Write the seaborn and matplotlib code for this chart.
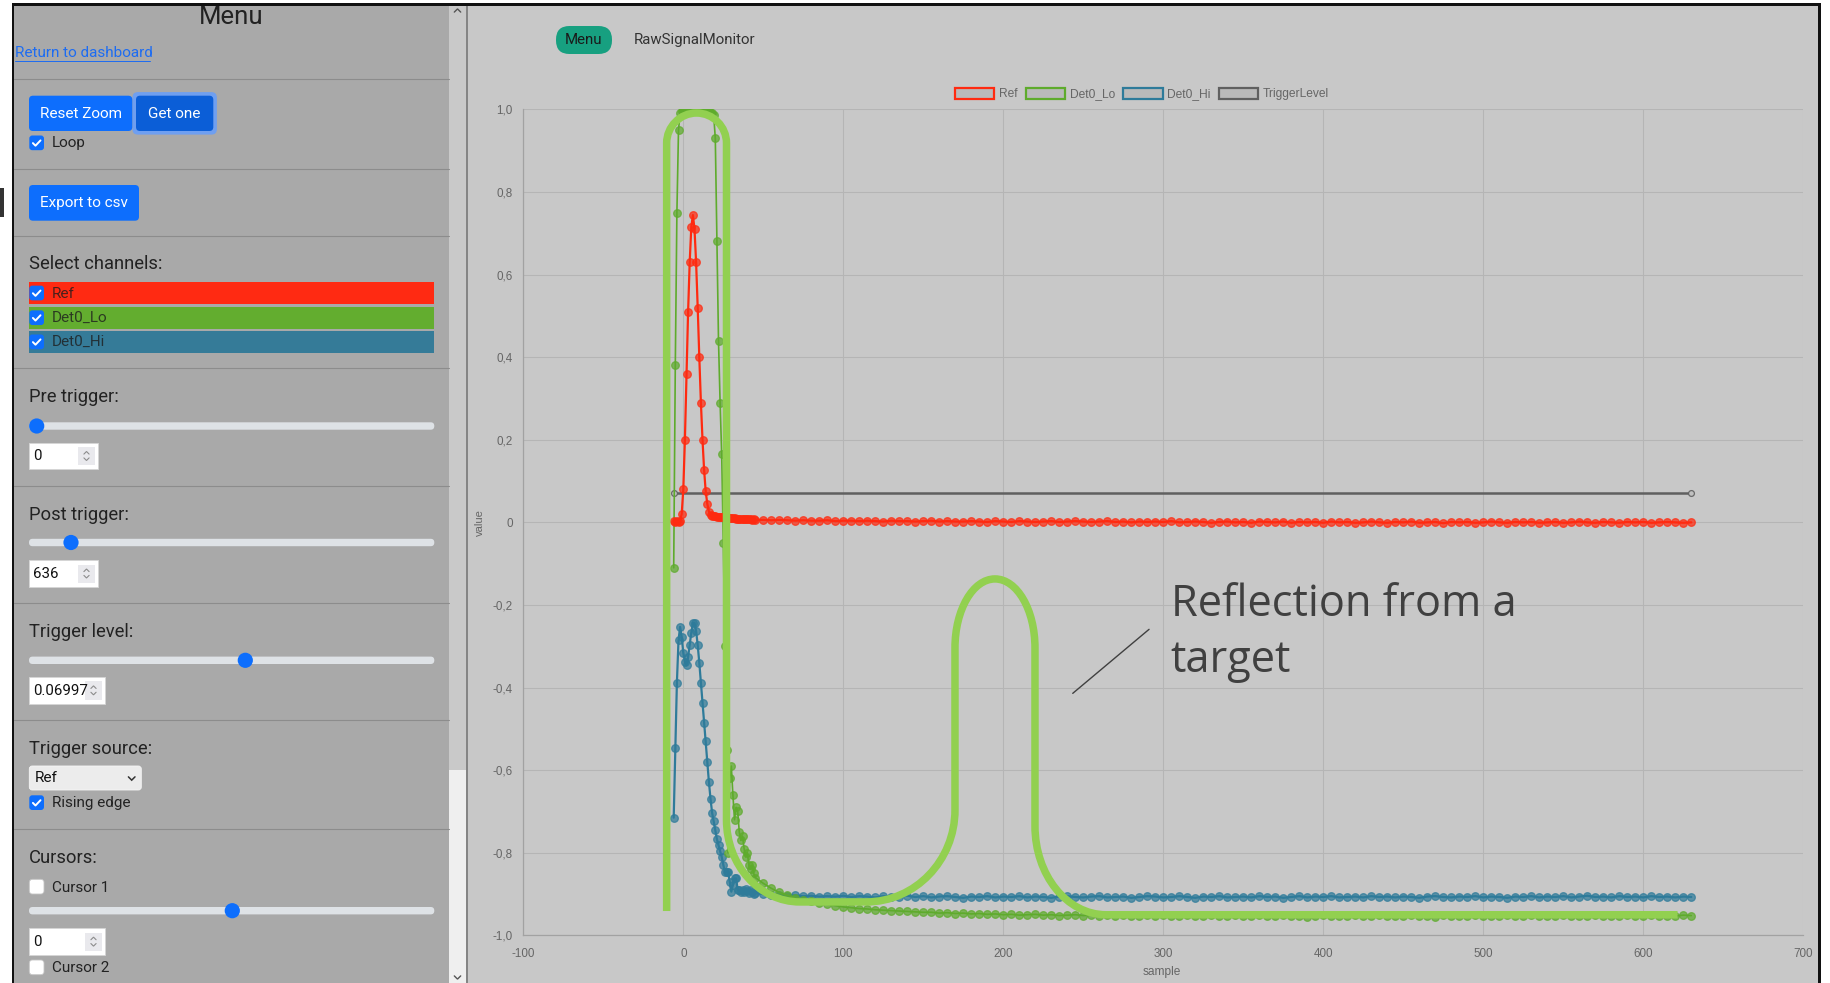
import numpy as np
import pandas as pd
import matplotlib
matplotlib.use("Agg")
import matplotlib.pyplot as plt
import seaborn as sns
from matplotlib.colors import to_rgba
from matplotlib.patches import FancyBboxPatch, Rectangle, Circle, PathPatch, Patch
from matplotlib.path import Path

# ---------------------------------------------------------------- signal data
sample_head = np.arange(-6, 45)        # every sample around the pulse
sample_tail = np.arange(45, 631, 5)    # settled tail, every 5th sample

ref_head = [0.003, 0.002, 0.003, 0.002, 0.004,
            0.020, 0.080, 0.200, 0.360, 0.510, 0.630, 0.715, 0.744, 0.710, 0.630,
            0.520, 0.400, 0.290, 0.200, 0.127, 0.075, 0.045, 0.026, 0.019, 0.016,
            0.015, 0.015, 0.014, 0.014, 0.013, 0.013, 0.012, 0.012, 0.012, 0.011,
            0.011, 0.010, 0.010, 0.010, 0.009, 0.009, 0.009, 0.008, 0.008, 0.008,
            0.007, 0.008, 0.007, 0.007, 0.006, 0.007]
ref_tail = [0.006, 0.006, 0.005, 0.006, 0.005, 0.004, 0.005, 0.004, 0.004, 0.005,
            0.003, 0.004, 0.004, 0.003, 0.004, 0.003, 0.002, 0.004, 0.003, 0.003,
            0.002, 0.003, 0.004, 0.002, 0.003, 0.002, 0.002, 0.003, 0.002, 0.001,
            0.003, 0.002, 0.001, 0.003, 0.002, 0.001, 0.002, 0.003, 0.001, 0.002,
            0.003, 0.002, 0.001, 0.002, 0.003, 0.001, 0.002, 0.000, 0.002, 0.001,
            0.002, 0.001, 0.003, 0.000, 0.001, 0.002, 0.001, -0.001, 0.001, 0.002,
            0.000, 0.001, -0.001, 0.002, 0.001, 0.000, 0.002, -0.001, 0.001, 0.000,
            0.001, -0.001, 0.002, 0.000, 0.001, -0.001, 0.000, 0.002, 0.000, -0.001,
            0.001, 0.000, 0.002, -0.001, 0.000, 0.001, -0.002, 0.001, 0.000, 0.001,
            -0.001, 0.000, 0.002, 0.000, -0.001, 0.001, 0.000, 0.001, -0.001, 0.000,
            0.001, -0.001, 0.000, 0.002, 0.000, -0.001, 0.001, 0.000, -0.001, 0.001,
            0.000, 0.001, -0.001, 0.000, 0.001, 0.000, -0.001, 0.000]

lo_head = [-0.110, 0.380, 0.750, 0.950, 0.990, 0.995, 0.998, 1.000, 0.997, 0.999,
           1.000, 0.998, 1.000, 0.999, 0.997, 1.000, 0.998, 0.996, 0.999, 0.997,
           0.995, 0.993, 0.996, 0.990, 0.992, 0.985, 0.930, 0.680, 0.440, 0.290,
           0.165, -0.050, -0.300, -0.550, -0.800, -0.620, -0.590, -0.660, -0.720, -0.690,
           -0.700, -0.750, -0.770, -0.760, -0.790, -0.810, -0.800, -0.830, -0.840, -0.830,
           -0.850]
lo_tail = [-0.860, -0.874, -0.886, -0.896, -0.903, -0.909, -0.914, -0.917, -0.921, -0.925,
           -0.928, -0.931, -0.933, -0.935, -0.936, -0.938, -0.939, -0.940, -0.941, -0.942,
           -0.943, -0.944, -0.944, -0.946, -0.945, -0.947, -0.946, -0.948, -0.947, -0.949,
           -0.948, -0.950, -0.949, -0.951, -0.950, -0.949, -0.951, -0.950, -0.952, -0.951,
           -0.950, -0.952, -0.951, -0.953, -0.950, -0.952, -0.951, -0.953, -0.952, -0.950,
           -0.953, -0.951, -0.952, -0.954, -0.951, -0.952, -0.953, -0.950, -0.952, -0.954,
           -0.951, -0.953, -0.952, -0.950, -0.954, -0.952, -0.951, -0.953, -0.952, -0.955,
           -0.952, -0.950, -0.953, -0.952, -0.954, -0.951, -0.953, -0.952, -0.950, -0.953,
           -0.952, -0.954, -0.951, -0.953, -0.952, -0.955, -0.951, -0.952, -0.954, -0.952,
           -0.951, -0.953, -0.952, -0.954, -0.950, -0.953, -0.952, -0.951, -0.954, -0.952,
           -0.953, -0.951, -0.952, -0.954, -0.952, -0.950, -0.953, -0.952, -0.954, -0.951,
           -0.953, -0.952, -0.951, -0.954, -0.952, -0.953, -0.951, -0.952]

hi_head = [-0.715, -0.546, -0.388, -0.286, -0.253, -0.277,
           -0.316, -0.338, -0.346, -0.326, -0.297, -0.267, -0.244, -0.244, -0.263, -0.297,
           -0.340, -0.388, -0.437, -0.485, -0.530, -0.580, -0.628, -0.669, -0.703, -0.724,
           -0.745, -0.767, -0.782, -0.796, -0.810, -0.829, -0.846, -0.846, -0.846, -0.870,
           -0.894, -0.878, -0.862, -0.862, -0.890, -0.890, -0.894, -0.890, -0.895, -0.888,
           -0.893, -0.897, -0.891, -0.896, -0.899]
hi_tail = [-0.897, -0.900, -0.902, -0.901, -0.904, -0.903, -0.905, -0.904, -0.906, -0.905,
           -0.906, -0.904, -0.907, -0.905, -0.906, -0.908, -0.905, -0.907, -0.906, -0.904,
           -0.907, -0.905, -0.908, -0.906, -0.905, -0.907, -0.909, -0.906, -0.907, -0.905,
           -0.908, -0.906, -0.907, -0.905, -0.908, -0.906, -0.907, -0.909, -0.906, -0.905,
           -0.907, -0.908, -0.906, -0.905, -0.908, -0.907, -0.906, -0.909, -0.907, -0.905,
           -0.906, -0.908, -0.907, -0.905, -0.907, -0.909, -0.906, -0.907, -0.905, -0.908,
           -0.907, -0.906, -0.908, -0.905, -0.907, -0.906, -0.909, -0.907, -0.905, -0.908,
           -0.906, -0.907, -0.905, -0.908, -0.907, -0.906, -0.908, -0.905, -0.907, -0.906,
           -0.908, -0.906, -0.907, -0.909, -0.906, -0.905, -0.907, -0.908, -0.906, -0.907,
           -0.905, -0.908, -0.906, -0.907, -0.909, -0.906, -0.907, -0.905, -0.908, -0.906,
           -0.907, -0.905, -0.908, -0.906, -0.904, -0.907, -0.906, -0.908, -0.905, -0.907,
           -0.906, -0.908, -0.905, -0.907, -0.906, -0.908, -0.906, -0.907]

trigger_samples = [-6, 630]
trigger_level = 0.06997

channel_names = ["Ref", "Det0_Lo", "Det0_Hi", "TriggerLevel"]
channel_colors = {"Ref": "#ff2a10", "Det0_Lo": "#5eab2c",
                  "Det0_Hi": "#2e7b9a", "TriggerLevel": "#606060"}

x_ticks = [-100, 0, 100, 200, 300, 400, 500, 600, 700]
y_ticks = [-1.0, -0.8, -0.6, -0.4, -0.2, 0.0, 0.2, 0.4, 0.6, 0.8, 1.0]
y_tick_labels = ["-1,0", "-0,8", "-0,6", "-0,4", "-0,2", "0",
                 "0,2", "0,4", "0,6", "0,8", "1,0"]

frames = []
for name, head, tail in [("Ref", ref_head, ref_tail),
                         ("Det0_Lo", lo_head, lo_tail),
                         ("Det0_Hi", hi_head, hi_tail)]:
    frames.append(pd.DataFrame({"sample": np.concatenate([sample_head, sample_tail]),
                                "value": np.concatenate([head, tail]),
                                "channel": name}))
frames.append(pd.DataFrame({"sample": trigger_samples,
                            "value": [trigger_level] * len(trigger_samples),
                            "channel": "TriggerLevel"}))
signals = pd.concat(frames, ignore_index=True)

# ---------------------------------------------------------------- figure
W, H, DPI = 1831, 983, 100
sns.set_style("whitegrid")
plt.rcParams["font.family"] = ["Liberation Sans", "DejaVu Sans"]
UI_FONT = ["Roboto", "DejaVu Sans"]

fig = plt.figure(figsize=(W / DPI, H / DPI), dpi=DPI, facecolor="white")

# page layer in pixel units (y grows downward)
ui = fig.add_axes([0, 0, 1, 1], zorder=0)
ui.set_xlim(0, W)
ui.set_ylim(H, 0)
ui.set_autoscale_on(False)
ui.axis("off")


def box(x0, y0, x1, y1, fc, ec="none", lw=0.0, r=0.0, z=1, alpha=1.0):
    if r > 0:
        p = FancyBboxPatch((x0 + r, y0 + r), x1 - x0 - 2 * r, y1 - y0 - 2 * r,
                           boxstyle=f"round,pad={r}", fc=fc, ec=ec, lw=lw,
                           zorder=z, alpha=alpha)
    else:
        p = Rectangle((x0, y0), x1 - x0, y1 - y0, fc=fc, ec=ec, lw=lw,
                      zorder=z, alpha=alpha)
    ui.add_patch(p)


def label(x, y, s, size, color="#222222", ha="left", va="center", family=None,
          z=6, alpha=1.0):
    ui.text(x, y, s, fontsize=size, color=color, ha=ha, va=va,
            family=family or UI_FONT, zorder=z, alpha=alpha)


def hline(x0, x1, y, color="#8c8c8c", lw=0.8):
    ui.plot([x0, x1], [y, y], color=color, lw=lw, zorder=2)


def checkbox(x, y, checked=True):
    if checked:
        box(x, y, x + 14.7, y + 14.7, "#0d6efd", r=3, z=4)
        ui.plot([x + 3.6, x + 6.2, x + 11.2], [y + 7.6, y + 10.2, y + 4.9],
                color="white", lw=1.4, solid_capstyle="round",
                solid_joinstyle="round", zorder=5)
    else:
        box(x, y, x + 14.7, y + 14.7, "white", ec="#c4c4c4", lw=0.6, r=3, z=4)


def slider(yc, x_thumb):
    box(29, yc - 3.7, 434.3, yc + 3.7, "#dee2e6", r=3.6, z=3)
    ui.add_patch(Circle((x_thumb, yc), 7.6, fc="#0d6efd", ec="none", zorder=4))


def chevron(cx, cy, up, color="#8c8c8c", s=2.6, lw=0.8):
    d = -1 if up else 1
    ui.plot([cx - s, cx, cx + s], [cy - d * s / 2, cy + d * s / 2, cy - d * s / 2],
            color=color, lw=lw, zorder=6, solid_joinstyle="miter")


def number_input(x0, y0, x1, y1, text):
    box(x0, y0, x1, y1, "white", ec="#d6d6d6", lw=0.6, z=3)
    label(x0 + 3.5, (y0 + y1) / 2 + 0.5, text, 10.8, color="#111111")
    sx0, sx1 = x1 - 20.3, x1 - 3.3
    box(sx0, y0 + 4.5, sx1, y1 - 4.5, "#e9e9ed", z=4)
    cx, cy = (sx0 + sx1) / 2, (y0 + y1) / 2
    chevron(cx, cy - 3.2, True)
    chevron(cx, cy + 3.2, False)


def button(x0, y0, x1, y1, text, fc="#0d6efd"):
    box(x0, y0, x1, y1, fc, r=4, z=4)
    label((x0 + x1) / 2, (y0 + y1) / 2 + 0.5, text, 11.0, color="white", ha="center")


# page frame and panels
box(0, 0, W, H, "white", z=0)
box(14, 6, 449, H, "#a9a9a9", z=1)                 # sidebar
box(449, 6, 466, 770, "#c9c9c9", z=1)              # scrollbar thumb
box(449, 770, 466, H, "#efefef", z=1)              # scrollbar track
box(466, 6, 468, H, "#858585", z=1)
box(468, 6, 1818.5, H, "#c8c8c8", z=1)            # chart panel
box(12, 3.3, 1821, 6, "#111111", z=7)
box(12, 3.3, 14, H, "#111111", z=7)
box(1818.5, 3.3, 1821, H, "#111111", z=7)
box(0, 188, 4.5, 217, "#333333", z=7)
chevron(457.5, 10.5, True, color="#555555", s=3.2, lw=1.0)
chevron(457.5, 977.5, False, color="#555555", s=3.2, lw=1.0)

# sidebar content
label(231.5, 17.5, "Menu", 18.5, color="#222222", ha="center")
label(14.7, 53.3, "Return to dashboard", 11.0, color="#1d6cf2")
hline(14.7, 150.5, 60.8, color="#1d6cf2", lw=0.7)
for y in [79.3, 169.3, 236.0, 368.3, 485.7, 603.3, 720.0, 829.0]:
    hline(14, 449, y)

button(29, 95.7, 132.3, 131, "Reset Zoom")
box(132.4, 92.1, 216.9, 134.6, "#6f9ff0", r=5.5, z=3)
button(136, 95.7, 213.3, 131, "Get one", fc="#0b5ed7")
checkbox(29.3, 135.5)
label(51.7, 143.3, "Loop", 11.0)
button(29, 185, 139, 220.7, "Export to csv")

label(29.3, 264.3, "Select channels:", 13.2)
bar_rows = [("Ref", "#ff2a12", 282.0, 304.0),
            ("Det0_Lo", "#63ad2f", 306.7, 328.7),
            ("Det0_Hi", "#357b98", 331.0, 352.7)]
for name, fc, y0, y1 in bar_rows:
    box(29, y0, 434.3, y1, fc, z=2)
    checkbox(29.3, (y0 + y1) / 2 - 7.35)
    label(52, (y0 + y1) / 2 + 0.5, name, 11.0, color="#1e1e1e", alpha=0.8)

label(29.3, 396.7, "Pre trigger:", 13.2)
slider(426.0, 36.7)
number_input(29.3, 442.7, 98.3, 469.3, "0")

label(29.3, 515.0, "Post trigger:", 13.2)
slider(542.5, 71.0)
number_input(29.3, 560.0, 98.3, 587.0, "636")

label(29.3, 631.7, "Trigger level:", 13.2)
slider(660.3, 245.3)
number_input(29.3, 676.7, 105.3, 704.0, "0.06997")

label(29.3, 749.3, "Trigger source:", 13.2)
box(29.3, 766, 141.3, 790, "#ececec", ec="#f6f6f6", lw=0.6, r=3, z=3)
label(35, 778.5, "Ref", 11.0, color="#111111")
chevron(131.7, 778.5, False, color="#333333", s=3.3, lw=1.1)
checkbox(29.3, 795.3)
label(51.7, 803.2, "Rising edge", 11.0)

label(29.3, 858.3, "Cursors:", 13.2)
checkbox(29.3, 879.3, checked=False)
label(51.7, 887.5, "Cursor 1", 11.0)
slider(910.7, 232.3)
number_input(29.3, 928.3, 105.3, 955.0, "0")
checkbox(29.3, 960.0, checked=False)
label(51.7, 968.0, "Cursor 2", 11.0)

# chart header
box(556, 26, 612, 54, "#17a080", r=13.5, z=3)
label(584, 40.5, "Menu", 10.8, color="#1a1a1a", ha="center")
label(634, 40.0, "RawSignalMonitor", 10.8, color="#333333")

# ---------------------------------------------------------------- chart
ax_left, ax_right, ax_top, ax_bottom = 523.3, 1803.3, 109.3, 935.4
ax = fig.add_axes([ax_left / W, 1 - ax_bottom / H,
                   (ax_right - ax_left) / W, (ax_bottom - ax_top) / H], zorder=2)
ax.set_facecolor("none")

line_styles = {
    "TriggerLevel": dict(lw=1.8, ms=4.2, z=3),
    "Det0_Hi": dict(lw=1.6, ms=5.5, z=4),
    "Det0_Lo": dict(lw=1.2, ms=5.5, z=5),
    "Ref": dict(lw=1.6, ms=5.5, z=6),
}
for name in ["TriggerLevel", "Det0_Hi", "Det0_Lo", "Ref"]:
    sub = signals[signals["channel"] == name]
    c = channel_colors[name]
    st = line_styles[name]
    face = "#c0c0c0" if name == "TriggerLevel" else to_rgba(c, 0.72)
    edge = to_rgba(c, 0.9) if name == "TriggerLevel" else to_rgba(c, 0.75)
    sns.lineplot(data=sub, x="sample", y="value", ax=ax, color=c,
                 linewidth=st["lw"], marker="o", markersize=st["ms"],
                 markerfacecolor=face, markeredgecolor=edge,
                 markeredgewidth=0.9, estimator=None, sort=False,
                 legend=False, zorder=st["z"])

ax.set_xlim(-100, 700)
ax.set_ylim(-1, 1)
ax.set_xticks(x_ticks)
ax.set_xticklabels([str(t) for t in x_ticks])
ax.set_yticks(y_ticks)
ax.set_yticklabels(y_tick_labels)
ax.grid(True, color="#b5b5b5", lw=0.75)
ax.set_axisbelow(True)
for side in ["top", "right"]:
    ax.spines[side].set_visible(False)
for side in ["left", "bottom"]:
    ax.spines[side].set_color("#a2a2a2")
    ax.spines[side].set_linewidth(0.9)
ax.tick_params(axis="both", length=5, width=0.75, color="#b5b5b5",
               labelsize=8.4, labelcolor="#666666")
ax.tick_params(axis="x", pad=4.0)
ax.tick_params(axis="y", pad=2.6)
ax.set_xlabel("sample", fontsize=8.6, color="#666666")
ax.set_ylabel("value", fontsize=8.0, color="#666666")
ax.xaxis.set_label_coords((1162 - ax_left) / (ax_right - ax_left),
                          -(972.5 - ax_bottom) / (ax_bottom - ax_top))
ax.xaxis.label.set_va("center")
ax.yaxis.set_label_coords(-(ax_left - 480) / (ax_right - ax_left), 0.5)
ax.yaxis.label.set_va("center")

# legend
handles = [Patch(facecolor="#bababa", edgecolor=channel_colors[n], linewidth=1.6)
           for n in channel_names]
fig.legend(handles, channel_names, loc="center",
           bbox_to_anchor=(1142 / W, 1 - 94 / H), ncol=4, frameon=False,
           handlelength=3.3, handleheight=1.05, handletextpad=0.4,
           columnspacing=0.65, borderpad=0.2,
           prop={"family": "Liberation Sans", "size": 8.64}, labelcolor="#666666")

# highlighted outline of the pulse and its echo
K = 0.5523


def quarter(p0, p1, vertical_first):
    (x0, y0), (x1, y1) = p0, p1
    if vertical_first:
        return [(x0, y0 + K * (y1 - y0)), (x1 - K * (x1 - x0), y1), (x1, y1)]
    return [(x0 + K * (x1 - x0), y0), (x1, y1 - K * (y1 - y0)), (x1, y1)]


verts = [(-10.4, -0.941), (-10.4, 0.918)]
codes = [Path.MOVETO, Path.LINETO]
segments = [
    ("q", (-10.4, 0.918), (8.3, 0.991), True),
    ("q", (8.3, 0.991), (27.0, 0.918), False),
    ("l", (27.0, -0.720)),
    ("q", (27.0, -0.720), (72.9, -0.919), True),
    ("l", (114.2, -0.919)),
    ("q", (114.2, -0.919), (169.8, -0.696), False),
    ("l", (169.8, -0.304)),
    ("q", (169.8, -0.304), (194.8, -0.137), True),
    ("q", (194.8, -0.137), (219.8, -0.304), False),
    ("l", (219.8, -0.735)),
    ("q", (219.8, -0.735), (264.2, -0.950), True),
    ("l", (621.4, -0.950)),
]
for seg in segments:
    if seg[0] == "l":
        verts.append(seg[1])
        codes.append(Path.LINETO)
    else:
        verts.extend(quarter(seg[1], seg[2], seg[3]))
        codes.extend([Path.CURVE4] * 3)
ax.add_patch(PathPatch(Path(verts, codes), fill=False, ec="#92d050", lw=5.4,
                       capstyle="butt", joinstyle="round", zorder=10))

ax.plot([243.4, 291.1], [-0.414, -0.259], color="#404040", lw=1.0, zorder=11)
ax.text(304.6, -0.227, "Reflection from a", fontsize=31.2, color="#404040",
        family=["Open Sans", "DejaVu Sans"], va="baseline", ha="left", zorder=11)
ax.text(304.6, -0.362, "target", fontsize=31.2, color="#404040",
        family=["Open Sans", "DejaVu Sans"], va="baseline", ha="left", zorder=11)

fig.savefig("out.png", dpi=DPI, facecolor="white")
